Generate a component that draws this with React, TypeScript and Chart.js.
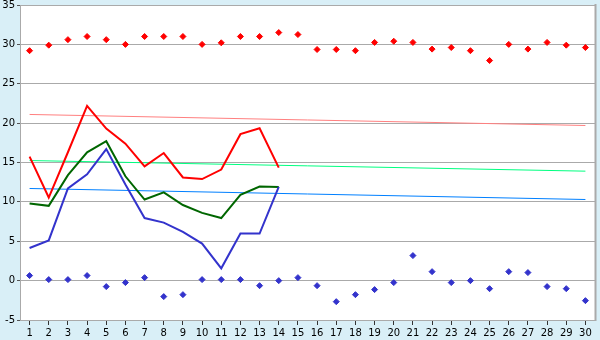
import React, { useEffect, useRef } from 'react';
import { Chart, registerables } from 'chart.js';
Chart.register(...registerables);

const days = ['1','2','3','4','5','6','7','8','9','10','11','12','13','14','15','16','17','18','19','20','21','22','23','24','25','26','27','28','29','30'];
const yTicks = [35, 30, 25, 20, 15, 10, 5, 0, -5];

const maxPoints = [29.2,29.9,30.6,31.0,30.6,30.0,31.0,31.0,31.0,30.0,30.2,31.0,31.0,31.5,31.25,29.35,29.35,29.2,30.25,30.4,30.25,29.4,29.6,29.2,27.95,30.0,29.4,30.25,29.9,29.6];
const minPoints = [0.64,0.13,0.13,0.64,-0.76,-0.25,0.38,-2.03,-1.78,0.13,0.13,0.13,-0.64,0,0.38,-0.64,-2.67,-1.78,-1.14,-0.25,3.18,1.14,-0.25,0,-1.02,1.14,1.02,-0.76,-1.02,-2.54];
const redLine = [15.75,10.55,16.3,22.2,19.3,17.4,14.5,16.2,13.1,12.9,14.1,18.6,19.35,14.35];
const greenLine = [9.8,9.5,13.4,16.3,17.7,13.25,10.3,11.2,9.6,8.6,7.95,10.9,11.95,11.9];
const blueLine = [4.15,5.1,11.7,13.5,16.7,12.2,7.95,7.37,6.18,4.7,1.56,5.97,5.97,11.9];
const trendDays = ['1', '30'];
const pinkTrend = [21.1, 19.7];
const greenTrend = [15.25, 13.9];
const blueTrend = [11.7, 10.3];

const BG = '#D9EFF7';

const bgPlugin = {
  id: 'bgPlugin',
  beforeDraw(chart: any) {
    const { ctx, chartArea: a } = chart;
    ctx.save();
    ctx.fillStyle = BG;
    ctx.fillRect(0, 0, chart.width, chart.height);
    ctx.fillStyle = '#FFFFFF';
    ctx.fillRect(a.left, a.top, a.right - a.left, a.bottom - a.top);
    ctx.restore();
  },
  afterDatasetsDraw(chart: any) {
    const { ctx, chartArea: a } = chart;
    ctx.save();
    ctx.strokeStyle = '#AAAAAA';
    ctx.lineWidth = 2;
    ctx.beginPath();
    ctx.moveTo(a.right + 0.5, a.top - 1);
    ctx.lineTo(a.right + 0.5, a.bottom + 1);
    ctx.stroke();
    ctx.restore();
  },
};

const toXY = (xs: string[], ys: number[]) => ys.map((y, i) => ({ x: xs[i], y }));

export default function App() {
  const ref = useRef<HTMLCanvasElement>(null);
  useEffect(() => {
    document.body.style.margin = '0';
    const font = { family: 'DejaVu Sans', size: 10 };
    const yFont = { family: 'DejaVu Sans', size: 10, lineHeight: 0.5 };
    const lineDs = (label: string, data: any, color: string, width: number) => ({
      type: 'line' as const,
      label,
      data,
      borderColor: color,
      backgroundColor: color,
      borderWidth: width,
      pointRadius: 0,
      tension: 0,
      fill: false,
    });
    const markerDs = (label: string, data: number[], color: string) => ({
      type: 'line' as const,
      label,
      data,
      showLine: false,
      borderColor: color,
      backgroundColor: color,
      pointStyle: 'rectRot',
      pointRadius: 3,
      pointBorderWidth: 1,
    });
    const chart = new Chart(ref.current!, {
      type: 'line',
      data: {
        labels: days,
        datasets: [
          markerDs('max', maxPoints, '#FF0000'),
          markerDs('min', minPoints, '#3333CC'),
          lineDs('red', redLine, '#FF0000', 2),
          lineDs('blue', blueLine, '#3333CC', 2),
          lineDs('green', greenLine, '#006600', 2),
          lineDs('pinkTrend', toXY(trendDays, pinkTrend), '#FF8080', 1),
          lineDs('greenTrend', toXY(trendDays, greenTrend), '#00FF80', 1),
          lineDs('blueTrend', toXY(trendDays, blueTrend), '#0080FF', 1),
        ] as any,
      },
      options: {
        animation: false,
        responsive: false,
        maintainAspectRatio: false,
        layout: { padding: { top: 5, right: 5, left: 0, bottom: 0 } },
        plugins: { legend: { display: false }, tooltip: { enabled: false } },
        scales: {
          x: {
            type: 'category',
            offset: true,
            grid: { offset: false, drawOnChartArea: false, drawTicks: true, tickLength: 5, tickColor: '#333333' },
            border: { color: '#AAAAAA', width: 1 },
            ticks: { color: '#000000', font, padding: 2, autoSkip: false, maxRotation: 0 },
            afterFit(scale: any) { scale.height = 20; },
          },
          y: {
            min: -5,
            max: 35,
            afterBuildTicks(scale: any) { scale.ticks = yTicks.map((v) => ({ value: v })); },
            grid: { color: '#AAAAAA', lineWidth: 1, drawTicks: true, tickLength: 3, tickColor: '#555555' },
            border: { color: '#AAAAAA', width: 1 },
            ticks: { color: '#000000', font: yFont, padding: 2 },
            afterFit(scale: any) { scale.width = 20; scale.paddingTop = 0; scale.paddingBottom = 0; },
          },
        },
      } as any,
      plugins: [bgPlugin],
    });
    return () => chart.destroy();
  }, []);
  return (
    <div style={{ position: 'absolute', left: 0, top: 0, width: 600, height: 340, background: BG }}>
      <canvas ref={ref} width={600} height={340} style={{ width: 600, height: 340, display: 'block' }} />
    </div>
  );
}
